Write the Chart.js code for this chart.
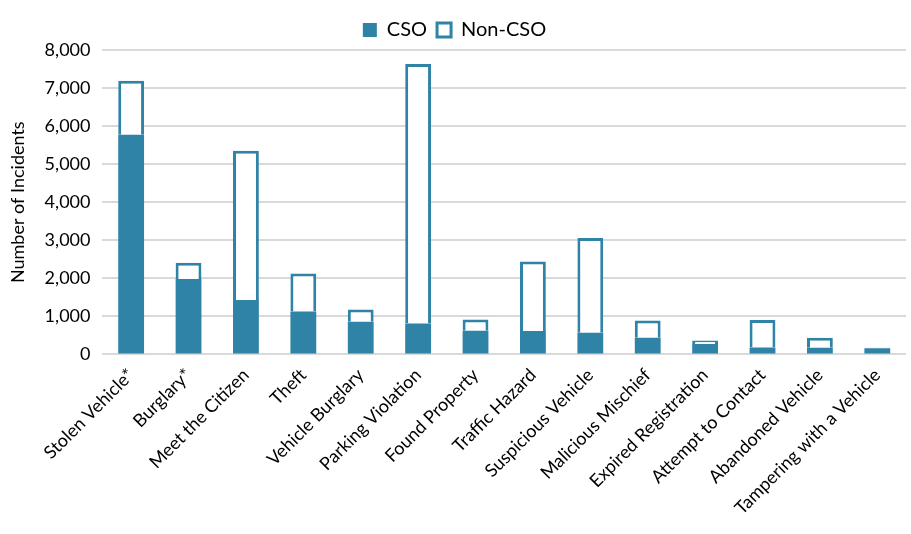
<!DOCTYPE html>
<html>
<head>
<meta charset="utf-8">
<script src="https://cdn.jsdelivr.net/npm/chart.js@4.4.1/dist/chart.umd.min.js"></script>
<style>
  html, body { margin: 0; padding: 0; background: #fff; }
  #wrap { width: 911px; height: 534px; }
</style>
</head>
<body>
<div id="wrap"><canvas id="grafico" width="911" height="534"></canvas></div>
<script>
/* incidentes CSO vs Non-CSO — barras empilhadas */

const COR_CSO   = "rgb(46,131,166)";
const COR_GRADE = "#d9d9d9";
const COR_TEXTO = "#000";
const FONTE     = "Lato, 'Open Sans', sans-serif";

const categorias = [
  "Stolen Vehicle*", "Burglary*", "Meet the Citizen", "Theft", "Vehicle Burglary",
  "Parking Violation", "Found Property", "Traffic Hazard", "Suspicious Vehicle",
  "Malicious Mischief", "Expired Registration", "Attempt to Contact",
  "Abandoned Vehicle", "Tampering with a Vehicle"
];
const valoresCSO    = [5770, 1980, 1430, 1130, 860, 810, 620, 615, 570, 440, 275, 185, 175, 165];
const valoresNaoCSO = [1425, 430, 3920, 995, 320, 6825, 295, 1825, 2490, 450, 90, 720, 265, 10];

const ctx = document.getElementById("grafico").getContext("2d");
new Chart(ctx, {
  type: "bar",
  data: {
    labels: categorias,
    datasets: [
      {
        label: "CSO",
        data: valoresCSO,
        backgroundColor: COR_CSO,
        borderColor: COR_CSO,
        borderWidth: 0,
        barPercentage: 0.5,
        categoryPercentage: 0.9,
      },
      {
        label: "Non-CSO",
        data: valoresNaoCSO,
        backgroundColor: "#fff",
        borderColor: COR_CSO,
        borderWidth: 3,
        barPercentage: 0.5,
        categoryPercentage: 0.9,
      }
    ]
  },
  options: {
    responsive: false,
    animation: false,
    layout: { padding: { left: 3, right: 5, top: 10, bottom: 13 } },
    plugins: {
      legend: {
        position: "top",
        labels: {
          color: COR_TEXTO,
          font: { family: FONTE, size: 20 },
          boxWidth: 14,
          boxHeight: 14,
          padding: 10,
          useBorderRadius: false,
        }
      },
      tooltip: { enabled: false }
    },
    scales: {
      x: {
        stacked: true,
        grid: { display: false },
        border: { display: false },
        ticks: {
          color: COR_TEXTO,
          font: { family: FONTE, size: 18 },
          minRotation: 45,
          maxRotation: 45,
          autoSkip: false,
          padding: 2,
        }
      },
      y: {
        stacked: true,
        min: 0,
        max: 8000,
        ticks: {
          stepSize: 1000,
          color: COR_TEXTO,
          font: { family: FONTE, size: 18 },
          padding: 12,
          callback: v => v.toLocaleString("en-US"),
        },
        grid: { color: COR_GRADE, lineWidth: 2, drawTicks: false },
        border: { display: false },
        title: {
          display: true,
          text: "Number of Incidents",
          color: COR_TEXTO,
          font: { family: FONTE, size: 18 },
          padding: { bottom: 4 },
        }
      }
    }
  }
});
</script>
</body>
</html>
